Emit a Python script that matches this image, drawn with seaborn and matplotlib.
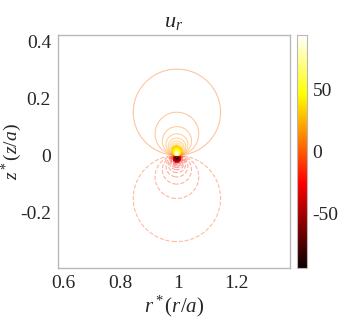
import numpy as np
import matplotlib
matplotlib.use("Agg")
import matplotlib.pyplot as plt
import seaborn as sns

# dipole-like radial velocity field u_r ~ strength * z / rho^2 around the ring at r*=1
ring_r = 0.995
ring_z = 0.0
strength = 1.0
level_step = 3.3
color_limit = 94.0
fill_from_pos = 30.0   # dense core that shows up as a solid blob
fill_from_neg = -40.0

# axis ranges and ticks
r_range = [0.582, 1.387]
z_range = [-0.396, 0.423]
r_ticks = [0.6, 0.8, 1.0, 1.2]
r_ticklabels = ["0.6", "0.8", "1", "1.2"]
z_ticks = [-0.2, 0.0, 0.2, 0.4]
z_ticklabels = ["-0.2", "0", "0.2", "0.4"]
cbar_ticks = [-50, 0, 50]
cbar_ticklabels = ["-50", "0", "50"]

sns.set_style("white")
plt.rcParams["font.family"] = ["Liberation Serif", "DejaVu Serif"]
plt.rcParams["mathtext.fontset"] = "custom"
plt.rcParams["mathtext.rm"] = "Liberation Serif"
plt.rcParams["mathtext.it"] = "Liberation Serif:italic"

# grid for the field
r = np.linspace(r_range[0], r_range[1], 1400)
z = np.linspace(z_range[0], z_range[1], 1400)
R, Z = np.meshgrid(r, z)
rho2 = (R - ring_r) ** 2 + (Z - ring_z) ** 2
U = strength * (Z - ring_z) / rho2
U = np.clip(U, -color_limit, color_limit)

pos_levels = np.arange(level_step, color_limit, level_step)
levels = np.concatenate([-pos_levels[::-1], pos_levels])
styles = ["dashed"] * len(pos_levels) + ["solid"] * len(pos_levels)

fig = plt.figure(figsize=(3.43, 3.21), dpi=100)
ax = fig.add_axes([0.169, 0.165, 0.676, 0.726])
cax = fig.add_axes([0.866, 0.165, 0.029, 0.726])

norm = matplotlib.colors.Normalize(-color_limit, color_limit)
ax.contour(R, Z, U, levels=levels, cmap="hot", norm=norm,
           linewidths=0.8, alpha=0.38, linestyles=styles)
ax.contourf(R, Z, U, levels=np.linspace(fill_from_pos, color_limit, 12), cmap="hot", norm=norm,
            alpha=0.9)
ax.contourf(R, Z, U, levels=np.linspace(-color_limit, fill_from_neg, 12), cmap="hot", norm=norm,
            alpha=0.75)

ax.set_xlim(r_range)
ax.set_ylim(z_range)
ax.set_xticks(r_ticks)
ax.set_xticklabels(r_ticklabels)
ax.set_yticks(z_ticks)
ax.set_yticklabels(z_ticklabels)
ax.tick_params(direction="in", length=3, color="#b0b0b0", labelsize=14, pad=5)
for s in ax.spines.values():
    s.set_color("#b8b8b8")
    s.set_linewidth(1.0)
ax.set_title(r"$u_r$", fontsize=16, pad=6)
ax.set_xlabel(r"$r^*(r/a)$", fontsize=15, labelpad=1)
ax.set_ylabel(r"$z^*(z/a)$", fontsize=14, labelpad=-3)

sm = matplotlib.cm.ScalarMappable(norm=norm, cmap="hot")
cb = fig.colorbar(sm, cax=cax)
cb.set_ticks(cbar_ticks)
cb.set_ticklabels(cbar_ticklabels)
cb.ax.tick_params(direction="in", length=2, color="#b0b0b0", labelsize=14, pad=4)
cb.outline.set_edgecolor("#b8b8b8")

fig.savefig("out.png", dpi=100, facecolor="white")
